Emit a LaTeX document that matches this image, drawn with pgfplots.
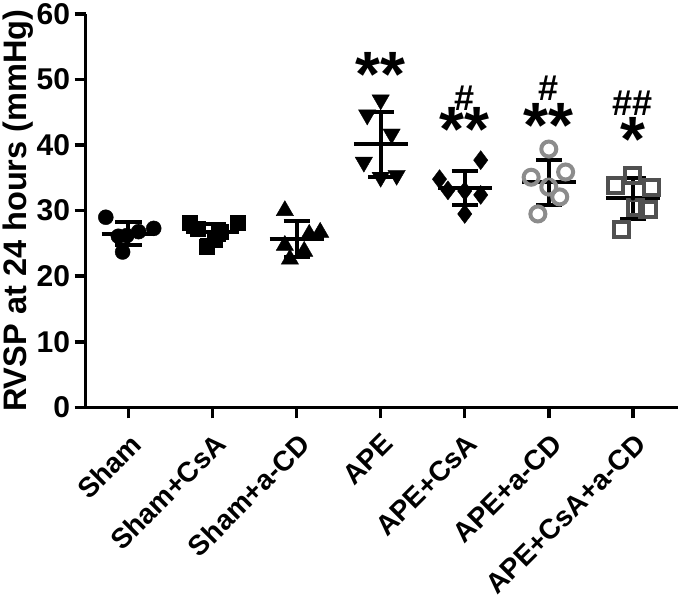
\documentclass[border=0pt]{standalone}
\usepackage{pgfplots}
\pgfplotsset{compat=1.18}
\usepackage{fontspec}
\setmainfont{Liberation Sans}
\definecolor{mgray}{RGB}{140,140,140}
\definecolor{dgray}{RGB}{80,80,80}
\begin{document}
\begin{tikzpicture}
\begin{axis}[
  scale only axis, width=592pt, height=393pt,
  xmin=-0.51, xmax=6.54, ymin=0, ymax=60,
  axis x line*=bottom, axis y line*=left,
  axis line style={line width=3.5pt},
  xtick={0,1,2,3,4,5,6},
  xticklabels={Sham,Sham+CsA,Sham+a-CD,APE,APE+CsA,APE+a-CD,APE+CsA+a-CD},
  ytick={0,10,20,30,40,50,60},
  tick align=outside, major tick length=11pt,
  tick style={line width=3.5pt, black},
  /pgf/number format/assume math mode=true,
  yticklabel style={font=\bfseries\fontsize{30}{30}\selectfont, xshift=-1pt},
  xticklabel style={font=\bfseries\fontsize{28}{28}\selectfont, rotate=45, anchor=north east, inner sep=2pt, yshift=-8pt, xshift=-7pt},
  ylabel={RVSP at 24 hours (mmHg)},
  ylabel style={font=\bfseries\fontsize{32.5}{32.5}\selectfont, yshift=-4pt},
  clip=false,
]
% Sham
\addplot[only marks, mark=*, mark size=7.5pt, black, mark options={fill=black}] coordinates {(-0.27,29.0) (-0.12,26.1) (0.30,27.3) (-0.07,23.7) (0.12,26.8) (-0.02,26.2)};
% Sham+CsA
\addplot[only marks, mark=square*, mark size=7.5pt, black, mark options={fill=black}] coordinates {(0.73,28.2) (1.30,28.2) (0.93,24.5) (0.82,27.2) (1.10,26.8) (1.02,25.6)};
% Sham+a-CD
\addplot[only marks, mark=triangle*, mark size=10pt, black, mark options={fill=black}] coordinates {(1.86,30.0) (2.15,26.4) (2.28,26.7) (1.86,24.7) (2.09,23.8) (1.92,22.6)};
% APE
\addplot[only marks, mark=triangle*, mark size=10pt, black, mark options={fill=black, rotate=180}] coordinates {(3.0,46.9) (2.84,44.6) (3.13,41.7) (2.80,37.4) (3.0,35.1) (3.19,35.4)};
% APE+CsA
\addplot[only marks, mark=diamond*, mark size=9.5pt, black, mark options={fill=black}] coordinates {(4.19,37.7) (3.70,34.8) (3.80,33.1) (4.19,32.4) (4.0,29.5) (4.0,33.0)};
% APE+a-CD
\addplot[only marks, mark=o, mark size=7.5pt, mgray, mark options={line width=4pt}] coordinates {(5.0,39.4) (4.79,35.1) (5.20,35.9) (5.0,33.6) (5.13,32.1) (4.87,29.5)};
% APE+CsA+a-CD
\addplot[only marks, mark=square, mark size=7.5pt, dgray, mark options={line width=4pt}] coordinates {(6.0,35.4) (5.79,33.9) (6.22,33.6) (6.03,30.5) (6.18,30.2) (5.86,27.2)};
% means
\addplot[black, line width=4pt] coordinates {(-0.32,26.5) (0.32,26.5)};
\addplot[black, line width=4pt] coordinates {(0.68,26.8) (1.32,26.8)};
\addplot[black, line width=4pt] coordinates {(1.68,25.7) (2.32,25.7)};
\addplot[black, line width=4pt] coordinates {(2.68,40.1) (3.32,40.1)};
\addplot[black, line width=4pt] coordinates {(3.68,33.4) (4.32,33.4)};
\addplot[black, line width=4pt] coordinates {(4.68,34.3) (5.32,34.3)};
\addplot[black, line width=4pt] coordinates {(5.68,31.9) (6.32,31.9)};
% SD
\addplot[only marks, mark=none, black,
  error bars/.cd, y dir=both, y explicit,
  error bar style={line width=4pt, black},
  error mark options={line width=4pt, black, mark size=13pt, rotate=90}]
  coordinates {(0,26.5) +- (0,1.8) (1,26.8) +- (0,1.2) (2,25.7) +- (0,2.7) (3,40.1) +- (0,4.9) (4,33.4) +- (0,2.6) (5,34.3) +- (0,3.5) (6,31.9) +- (0,3.1)};
% annotations
\node[font=\bfseries\fontsize{64}{64}\selectfont] at (axis cs:3,50.7) {**};
\node[font=\bfseries\fontsize{36}{36}\selectfont] at (axis cs:4,47.2) {\#};
\node[font=\bfseries\fontsize{64}{64}\selectfont] at (axis cs:4,42.4) {**};
\node[font=\bfseries\fontsize{36}{36}\selectfont] at (axis cs:5,48.7) {\#};
\node[font=\bfseries\fontsize{64}{64}\selectfont] at (axis cs:5,43.0) {**};
\node[font=\bfseries\fontsize{36}{36}\selectfont] at (axis cs:6,46.4) {\#\#};
\node[font=\bfseries\fontsize{64}{64}\selectfont] at (axis cs:6,40.8) {*};
\end{axis}
\end{tikzpicture}
\end{document}
